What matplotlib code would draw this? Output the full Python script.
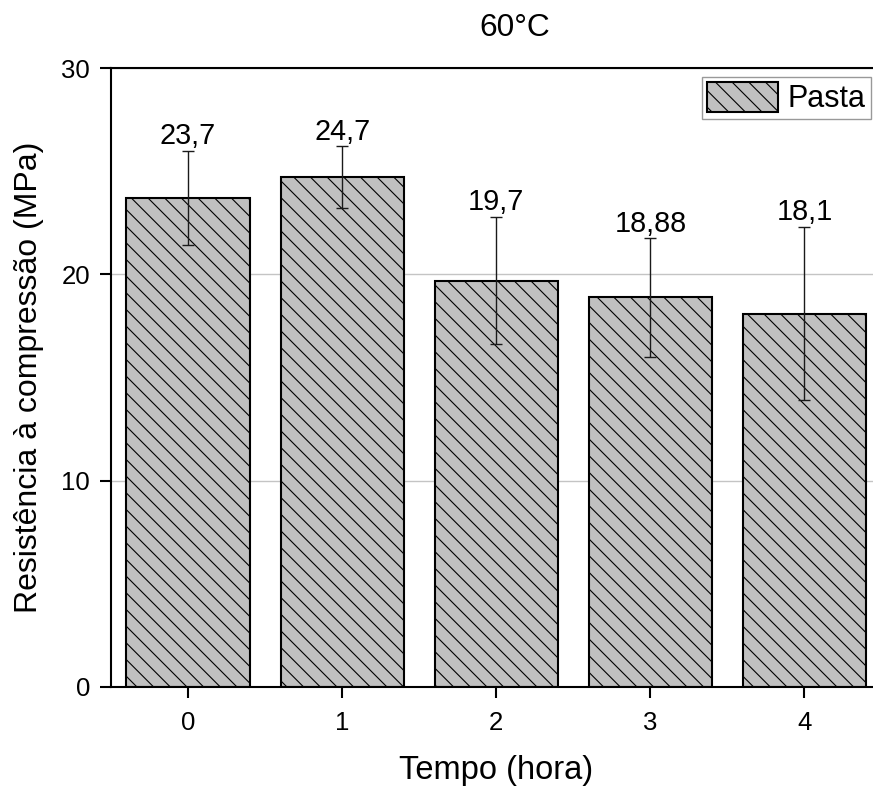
import matplotlib
matplotlib.use("Agg")
import matplotlib.pyplot as plt
import numpy as np

# Data
tempo = [0, 1, 2, 3, 4]
resistencia = [23.7, 24.7, 19.7, 18.88, 18.1]
erro = [2.3, 1.5, 3.1, 2.88, 4.2]
rotulos = ["23,7", "24,7", "19,7", "18,88", "18,1"]
y_ticks = [0, 10, 20, 30]

plt.rcParams['font.family'] = ['Liberation Sans', 'DejaVu Sans']
plt.rcParams['hatch.linewidth'] = 0.8
plt.rcParams['hatch.color'] = 'black'

W, H = 873, 786
fig = plt.figure(figsize=(W / 100, H / 100), dpi=100)
ax_left, ax_right, ax_top, ax_bottom = 111, 881.5, 68, 687
ax = fig.add_axes([ax_left / W, 1 - ax_bottom / H, (ax_right - ax_left) / W, (ax_bottom - ax_top) / H])

ax.set_axisbelow(True)
ax.yaxis.grid(True, color='#c4c4c4', linewidth=1.0)

bars = ax.bar(tempo, resistencia, width=0.8, color='#c0c0c0', edgecolor='black',
              linewidth=1.5, hatch='\\\\', label='Pasta', zorder=2)
ax.errorbar(tempo, resistencia, yerr=erro, fmt='none', ecolor='#1a1a1a',
            elinewidth=1.0, capsize=4, capthick=1.0, zorder=3)

for xi, yi, ei, lab in zip(tempo, resistencia, erro, rotulos):
    ax.annotate(lab, (xi, yi + ei), xytext=(0, 6.5), textcoords='offset pixels',
                ha='center', va='baseline', fontsize=20.8)

ax.set_xlim(-0.5, 4.5)
ax.set_ylim(0, 30)
ax.set_xticks(tempo)
ax.set_xticklabels([str(t) for t in tempo])
ax.set_yticks(y_ticks)

for s in ax.spines.values():
    s.set_linewidth(1.5)

ax.tick_params(axis='both', direction='out', length=8, width=1.5, labelsize=18.5)
ax.tick_params(axis='y', pad=7)
ax.tick_params(axis='x', pad=9)

ax.set_xlabel('Tempo (hora)', fontsize=23.5)
ax.set_ylabel('Resistência à compressão (MPa)', fontsize=23)
ax.xaxis.set_label_coords(0.5, -(755 - ax_bottom) / (ax_bottom - ax_top))
ax.yaxis.set_label_coords(-(ax_left - 43.7) / (ax_right - ax_left), 0.5)

fig.text(515 / W, 1 - 36 / H, '60°C', ha='center', va='baseline', fontsize=22.8)

leg = ax.legend(loc='upper right', bbox_to_anchor=(870.7 / W, 1 - 76.7 / H),
                bbox_transform=fig.transFigure, borderaxespad=0, fontsize=22,
                fancybox=False, frameon=True, edgecolor='#808080',
                handlelength=2.32, handleheight=1.14, handletextpad=0.33,
                borderpad=0.16)
leg.get_frame().set_linewidth(1.0)

fig.savefig('out.png', dpi=100)
